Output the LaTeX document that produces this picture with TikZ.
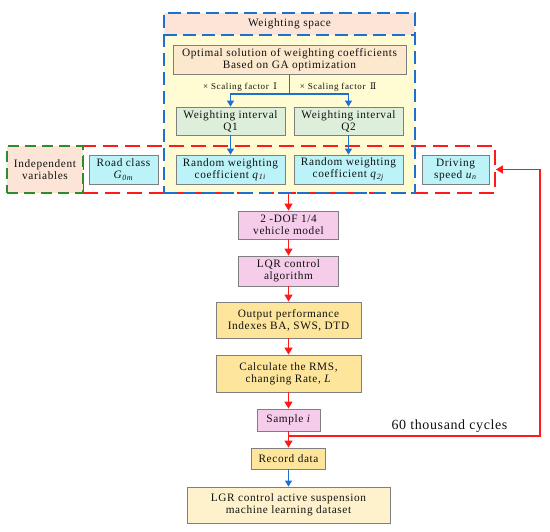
\documentclass[tikz,border=0pt]{standalone}
\usepackage{fontspec}
\setmainfont{Liberation Serif}[LetterSpace=5.5]
\newfontfamily\cycfam{Liberation Serif}[LetterSpace=4.4]
\newfontfamily\sclfam{Liberation Serif}[LetterSpace=7]
\newfontfamily\dvs{DejaVu Serif}
\usetikzlibrary{arrows.meta}
\definecolor{hdr}{HTML}{FCE4D6}
\definecolor{wsfill}{HTML}{FFFCD4}
\definecolor{optfill}{HTML}{FCE8CC}
\definecolor{qfill}{HTML}{DDEEDA}
\definecolor{cyanf}{HTML}{BBF3F8}
\definecolor{pinkf}{HTML}{F6CCEB}
\definecolor{goldf}{HTML}{FDE59C}
\definecolor{lgrf}{HTML}{FEF2CC}
\definecolor{bord}{HTML}{7F7F7F}
\definecolor{bluel}{HTML}{1F6FCF}
\definecolor{redl}{HTML}{FF1A1A}
\definecolor{greenl}{HTML}{2E8B2E}
\definecolor{txt}{HTML}{111111}
\newcommand\mainf{\fontsize{11.3}{12}\selectfont}
\newcommand\sclf{\sclfam\fontsize{9}{10}\selectfont}
\newcommand\cycf{\cycfam\fontsize{14}{15}\selectfont}
\begin{document}
\begin{tikzpicture}[x=1pt,y=-1pt,
  box/.style={draw=bord, line width=0.8pt, align=center, inner sep=1pt, font=\mainf, text=txt},
  bluedash/.style={draw=bluel, line width=1.8pt, dash pattern=on 13pt off 6pt},
  reddash/.style={draw=redl, line width=1.8pt, dash pattern=on 15pt off 7pt},
  greendash/.style={draw=greenl, line width=1.8pt, dash pattern=on 11pt off 6pt},
  bluearr/.style={draw=bluel, line width=1.2pt, -{Triangle[width=7pt,length=6pt]}},
  redarr/.style={draw=redl, line width=1.2pt, -{Triangle[width=8pt,length=7pt]}}]
\useasboundingbox (0,0) rectangle (550,532);
% weighting space area
\node[fill=wsfill, minimum width=251, minimum height=180, inner sep=0pt] (ws) at (289.5,103) {};
\node[fill=hdr, minimum width=251, minimum height=22, inner sep=0pt, font=\mainf, text=txt] (wsh) at (289.5,24) {Weighting space};
% independent variables containers
\node[reddash, minimum width=412, minimum height=47, inner sep=0pt] (redbox) at (289,169.5) {};
\node[greendash, fill=hdr, minimum width=76, minimum height=47, inner sep=0pt, align=center, font=\mainf, text=txt] (indep) at (45,169.5) {Independent\\variables};
\node[bluedash, minimum width=251, minimum height=180, inner sep=0pt] (wsb) at (289.5,103) {};
\draw[bluedash] (wsh.south west) -- (wsh.south east);
% boxes
\node[box, fill=optfill, minimum width=233, minimum height=28.5] (opt) at (289.5,60) {Optimal solution of weighting coefficients\\Based on GA optimization};
\node[box, fill=qfill, minimum width=109, minimum height=28] (q1) at (230.5,121) {Weighting interval\\Q1};
\node[box, fill=qfill, minimum width=109, minimum height=28] (q2) at (348.5,121) {Weighting interval\\Q2};
\node[box, fill=cyanf, minimum width=69, minimum height=29] (road) at (123.5,169.5) {Road class\\\textit{G}\textsubscript{\textit{0m}}};
\node[box, fill=cyanf, minimum width=109, minimum height=29] (rq1) at (230.5,169.5) {Random weighting\\coefficient \textit{q}\textsubscript{\textit{1i}}};
\node[box, fill=cyanf, minimum width=109, minimum height=29] (rq2) at (348.5,169.5) {Random weighting\\coefficient \textit{q}\textsubscript{\textit{2j}}};
\node[box, fill=cyanf, minimum width=67, minimum height=29] (drive) at (455.5,169.5) {Driving\\speed \textit{u}\textsubscript{\textit{n}}};
\node[box, fill=pinkf, minimum width=100, minimum height=28] (dof) at (288.5,225) {2 -DOF 1/4\\vehicle model};
\node[box, fill=pinkf, minimum width=100, minimum height=30] (lqr) at (288.5,271) {LQR control\\algorithm};
\node[box, fill=goldf, minimum width=145, minimum height=36] (outp) at (288.5,320) {Output performance\\Indexes BA, SWS, DTD};
\node[box, fill=goldf, minimum width=145, minimum height=37] (calc) at (288.5,373.5) {Calculate the RMS,\\changing Rate, \textit{L}};
\node[box, fill=pinkf, minimum width=63, minimum height=22] (sample) at (288.5,420) {Sample \textit{i}};
\node[box, fill=goldf, minimum width=74, minimum height=21] (record) at (288.5,458.5) {Record data};
\node[box, fill=lgrf, minimum width=203, minimum height=36] (lgr) at (288.5,505) {LGR control active suspension\\machine learning dataset};
% labels
\node[font=\sclf, text=txt, inner sep=0pt] (s1) at (240,87) {× Scaling factor\enspace{\dvs Ⅰ}};
\node[font=\sclf, text=txt, inner sep=0pt] (s2) at (338,87) {× Scaling factor\enspace{\dvs Ⅱ}};
\node[font=\cycf, text=txt, inner sep=0pt] (cyc) at (449.5,426) {60 thousand cycles};
% blue arrows
\coordinate (sp) at (289.5,94);
\draw[bluearr] (opt.south) -- (sp) -| (q1.north);
\draw[bluearr] (sp) -| (q2.north);
\draw[bluearr] (q1.south) -- (rq1.north);
\draw[bluearr] (q2.south) -- (rq2.north);
\draw[bluearr] (record.south) -- (lgr.north);
% red arrows
\draw[redarr] (dof.north |- redbox.south) -- (dof.north);
\draw[redarr] (dof.south) -- (lqr.north);
\draw[redarr] (lqr.south) -- (outp.north);
\draw[redarr] (outp.south) -- (calc.north);
\draw[redarr] (calc.south) -- (sample.north);
\draw[redarr] (sample.south) -- (record.north);
\coordinate (fbj) at (288.5,436);
\coordinate (fbc) at (540,169.5);
\draw[redarr] (fbj) -| (fbc) -- (redbox.east);
\end{tikzpicture}
\end{document}
